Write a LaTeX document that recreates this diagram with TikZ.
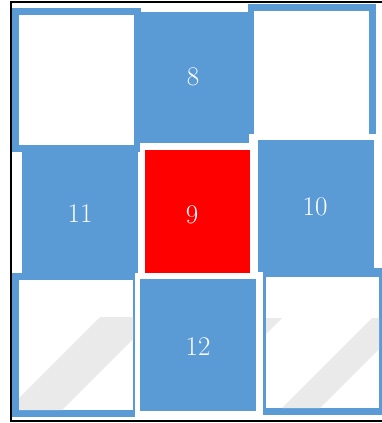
\documentclass[tikz,border=0pt]{standalone}
\usepackage{tikz}
\definecolor{myblue}{RGB}{91,155,213}
\definecolor{myred}{RGB}{255,0,0}
\definecolor{mygray}{RGB}{234,234,234}

\begin{document}
\begin{tikzpicture}[x=1pt, y=-1pt, font=\fontsize{27}{32}\selectfont,
		zahl/.style={text=white, inner sep=0pt}]
				\useasboundingbox (0,0) rectangle (382,423);
				% Eckfelder oben
				\fill[myblue] (12,8) rectangle (141,152);
				\fill[white] (19,15) rectangle (134,145);
				\fill[myblue] (248,4) rectangle (376,134);
				\fill[white] (254,11) rectangle (369,134);
				% Feld 8 und 11
				\fill[myblue] (141,12) rectangle (249,145);
				\fill[myblue] (22,152) rectangle (138,273);
				% Feld 9 (rot)
				\fill[white] (140,143) rectangle (253,275);
				\fill[myred] (145,150) rectangle (250,273);
				% Feld 10
				\fill[white] (251,135) rectangle (382,270);
				\fill[myblue] (258,140) rectangle (374,272);
				% Eckfelder unten
				\fill[myblue] (12,273) rectangle (136,417);
				\fill[white] (19,280) rectangle (133,410);
				\fill[myblue] (263,268) rectangle (382,415);
				\fill[white] (266,277) rectangle (379,408);
				% Feld 12
				\fill[white] (135,273) rectangle (260,417);
				\fill[myblue] (140,279) rectangle (256,411);
				% Wasserzeichen
				\begin{scope}
					\clip (19,280) rectangle (133,410);
					\fill[mygray] (100,317) -- (155,317) -- (62,410) -- (7,410) -- cycle;
				\end{scope}
				\begin{scope}
					\clip (266,277) rectangle (379,408);
					\fill[mygray] (372,318) -- (410,318) -- (320,408) -- (282,408) -- cycle;
					\fill[mygray] (265,318) -- (282,318) -- (265,335) -- cycle;
				\end{scope}
				% Rahmen
				\draw[line width=1.5pt] (382,2) -- (11,2) -- (11,421) -- (382,421);
				% Beschriftung
				\node[zahl] (n8) at (193,77) {8};
				\node[zahl] (n9) at (192,215) {9};
				\node[zahl] (n10) at (315,207) {10};
				\node[zahl] (n11) at (80,214) {11};
				\node[zahl] (n12) at (198,347) {12};
		\end{tikzpicture}
\end{document}
